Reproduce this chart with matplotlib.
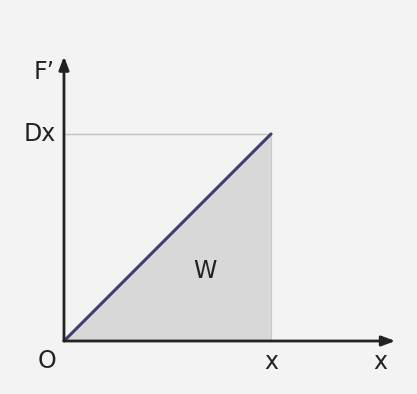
import numpy as np
import matplotlib.pyplot as plt

# Hooke's law: F' = D x, work W = area under the line
x_vals = [0.0, 1.0]      # displacement, O .. x
force = [0.0, 1.0]       # F', 0 .. Dx
tick_x_label = "x"
tick_y_label = "Dx"
area_label = "W"

fig = plt.figure(figsize=(4.17, 3.94), dpi=100)
fig.patch.set_facecolor('#f3f3f3')
ax = fig.add_axes([0, 0, 1, 1])
ax.set_facecolor('#f3f3f3')
ax.set_xlim(-0.309, 1.705)
ax.set_ylim(-0.256, 1.647)
ax.axis('off')

# shaded work area
ax.fill_between(x_vals, 0, force, color='#d8d8d8', lw=0)
ax.plot([x_vals[1], x_vals[1]], [0, force[1]], color='#c8c8c8', lw=0.8)
# helper line at Dx
ax.plot([0, x_vals[1]], [force[1], force[1]], color='#c4c4c4', lw=1.0)
# the force line
ax.plot(x_vals, force, color='#3c406e', lw=2.2, solid_capstyle='round')

# axes with arrows
arrow = dict(arrowstyle='-|>,head_length=0.8,head_width=0.3', color='#222222', lw=2.0,
             shrinkA=0, shrinkB=0)
ax.annotate('', xy=(1.60, 0), xytext=(0, 0), arrowprops=arrow)
ax.annotate('', xy=(0, 1.375), xytext=(0, 0), arrowprops=arrow)

fs = 17
ax.text(-0.035, -0.04, 'O', ha='right', va='top', fontsize=fs, color='#222222')
ax.text(x_vals[1], -0.045, tick_x_label, ha='center', va='top', fontsize=fs, color='#222222')
ax.text(1.53, -0.045, 'x', ha='center', va='top', fontsize=fs, color='#222222')
ax.text(-0.04, force[1], tick_y_label, ha='right', va='center', fontsize=fs, color='#222222')
ax.text(-0.045, 1.30, "F\u2019", ha='right', va='center', fontsize=fs, color='#222222')
ax.text(0.68, 0.34, area_label, ha='center', va='center', fontsize=fs, color='#222222')

fig.savefig('out.png', dpi=100, facecolor=fig.get_facecolor())
